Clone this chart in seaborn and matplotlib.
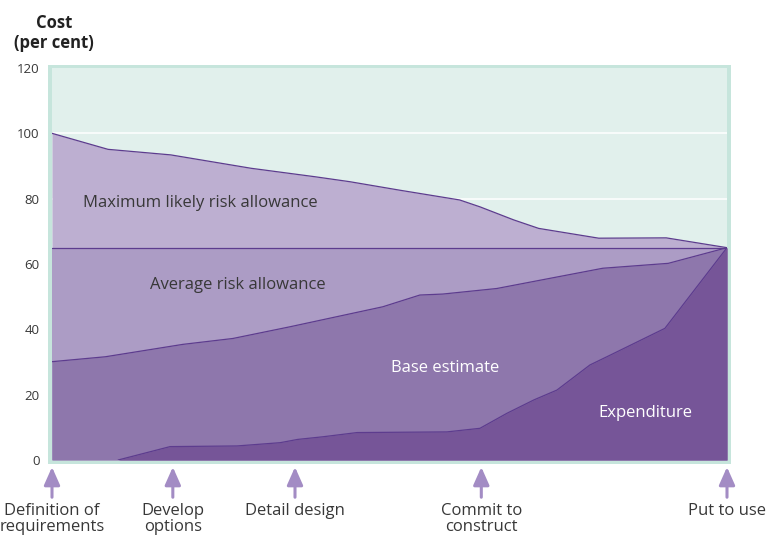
import matplotlib
matplotlib.use("Agg")
import matplotlib.pyplot as plt
from matplotlib.patches import Rectangle
import seaborn as sns

# Project timeline runs 0 (start) to 100 (hand-over); costs in per cent
max_x = [0, 8.3, 17.6, 29.5, 39.0, 44.1, 51.5, 60.4, 63.4, 68.4, 72.1, 81.0, 91.0, 100]
max_y = [100, 95.1, 93.4, 89.3, 86.7, 85.2, 82.6, 79.6, 77.5, 73.5, 70.9, 67.9, 68.0, 65]

avg_x = [0, 100]
avg_y = [65, 65]

base_x = [0, 7.9, 19.4, 26.8, 35.3, 49.0, 54.5, 57.9, 65.9, 81.6, 91.3, 100]
base_y = [30.1, 31.6, 35.4, 37.2, 40.8, 46.9, 50.5, 50.8, 52.5, 58.7, 60.2, 65]

exp_x = [0, 9.8, 17.5, 27.4, 33.8, 36.4, 40.1, 45.2, 58.5, 63.4, 67.4, 71.4, 74.8, 79.7, 82.2, 90.8, 100]
exp_y = [0, 0, 4.1, 4.3, 5.3, 6.3, 7.1, 8.4, 8.6, 9.7, 14.3, 18.4, 21.4, 29.1, 31.6, 40.3, 65]

milestone_x = [0, 17.9, 36.0, 63.6, 100]
milestone_labels = ["Definition of\nrequirements", "Develop\noptions", "Detail design",
                    "Commit to\nconstruct", "Put to use"]

band_labels = ["Maximum likely risk allowance", "Average risk allowance",
               "Base estimate", "Expenditure"]
y_ticks = [0, 20, 40, 60, 80, 100, 120]

sns.set_theme(style="white")
plt.rcParams["font.family"] = ["Open Sans", "DejaVu Sans"]

BG = "#e1f0ec"
FRAME = "#c6e5dc"
EDGE = "#5d3c8e"
FILLS = ["#bdafd1", "#ac9cc5", "#8e77ac", "#765598"]
ARROW = "#a38cc4"
TXT = "#383838"

W, H = 771, 538
fig = plt.figure(figsize=(W / 100, H / 100), dpi=100)
fig.patch.set_facecolor("white")

L, R, T, B = 52, 727, 68, 460
ax = fig.add_axes([L / W, 1 - B / H, (R - L) / W, (B - T) / H])
ax.set_facecolor(BG)
fig.patches.append(Rectangle(((L - 4) / W, 1 - (B + 4) / H), (R - L + 8) / W,
                             (B - T + 7) / H, transform=fig.transFigure,
                             facecolor=FRAME, edgecolor="none", zorder=-1))

ax.set_xlim(0, 100)
ax.set_ylim(0, 120)
for s in ax.spines.values():
    s.set_visible(False)

# white guide lines
for v in y_ticks[1:-1]:
    ax.axhline(v, color="white", lw=1.1, zorder=0.5)

# stacked bands painted from the top boundary downwards
layers = [(max_x, max_y), (avg_x, avg_y), (base_x, base_y), (exp_x, exp_y)]
for (xs, ys), c in zip(layers, FILLS):
    ax.fill_between(xs, ys, 0, color=c, lw=0, zorder=1)
# boundary lines (spending line starts where spending begins)
for (xs, ys) in layers[:3]:
    sns.lineplot(x=xs, y=ys, ax=ax, color=EDGE, lw=0.9, zorder=2,
                 estimator=None, sort=False)
sns.lineplot(x=exp_x[1:], y=exp_y[1:], ax=ax, color=EDGE, lw=0.9, zorder=2,
             estimator=None, sort=False)

ax.set_yticks(y_ticks)
ax.set_yticklabels([str(v) for v in y_ticks], fontsize=9.5, color=TXT)
ax.set_xticks([])
ax.tick_params(axis="y", length=0, pad=9)
ax.set_xlabel("")
ax.set_ylabel("")

# band names
ax.text(21.9, 78.6, band_labels[0], fontsize=12, color=TXT, ha="center", va="center")
ax.text(27.6, 53.5, band_labels[1], fontsize=12, color=TXT, ha="center", va="center")
ax.text(58.2, 28.2, band_labels[2], fontsize=12, color="white", ha="center", va="center")
ax.text(87.9, 14.4, band_labels[3], fontsize=12, color="white", ha="center", va="center")

# milestone arrows and labels below the axis
for mx, lab in zip(milestone_x, milestone_labels):
    ax.annotate("", xy=(mx, -0.018), xytext=(mx, -0.095),
                xycoords=("data", "axes fraction"), textcoords=("data", "axes fraction"),
                arrowprops=dict(arrowstyle="-|>,head_length=0.9,head_width=0.4",
                                color=ARROW, lw=2.2, shrinkA=0, shrinkB=0),
                annotation_clip=False)
    ax.text(mx, -0.11, lab, transform=ax.get_xaxis_transform(), ha="center", va="top",
            fontsize=12, color=TXT, linespacing=1.02, clip_on=False)

fig.text(54 / W, 1 - 33 / H, "Cost\n(per cent)", ha="center", va="center",
         fontsize=12, fontweight="bold", color="#222222", linespacing=1.1)

fig.savefig("out.png", dpi=100)
